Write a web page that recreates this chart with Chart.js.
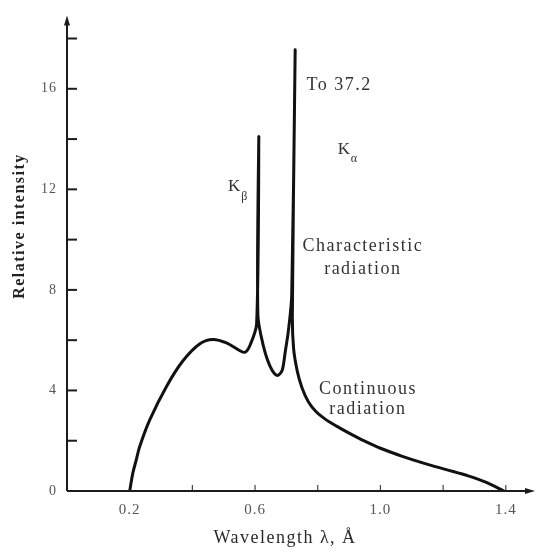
<!DOCTYPE html>
<html>
<head>
<meta charset="utf-8">
<title>Continuous and characteristic radiation</title>
<script src="https://cdn.jsdelivr.net/npm/chart.js@4.4.1/dist/chart.umd.min.js"></script>
<style>
  html, body { margin: 0; padding: 0; background: #fff; }
  canvas { display: block; }
</style>
</head>
<body>
<canvas id="spectrum" width="536" height="555"></canvas>
<script>
// wavelength (A) and relative intensity
const wavelength = [0.200, 0.210, 0.221, 0.232, 0.264, 0.318, 0.370, 0.424, 0.466, 0.509,
                    0.552, 0.568, 0.584, 0.605, 0.612, 0.609, 0.627, 0.648, 0.670, 0.686,
                    0.696, 0.707, 0.717, 0.728, 0.719, 0.723, 0.735, 0.750, 0.770, 0.795,
                    0.825, 0.860, 0.900, 0.950, 1.000, 1.070, 1.140, 1.210, 1.280, 1.340,
                    1.394];
const intensity  = [0.00, 0.71, 1.24, 1.77, 2.83, 4.17, 5.18, 5.86, 6.03, 5.89,
                    5.58, 5.52, 5.80, 6.65, 14.1, 7.00, 5.75, 4.96, 4.60, 4.78,
                    5.51, 6.44, 7.80, 17.55, 6.98, 5.66, 4.75, 4.10, 3.55, 3.15,
                    2.85, 2.58, 2.30, 1.98, 1.70, 1.38, 1.10, 0.85, 0.60, 0.33,
                    0.00];

const xTickLabels = ['0.2', '0.6', '1.0', '1.4'];
const yTickLabels = ['0', '4', '8', '12', '16'];

// labels written on the plot (data units)
const notes = [
  { text: 'To 37.2', x: 0.868, y: 16.13 },
  { text: 'Characteristic', x: 0.944, y: 9.72 },
  { text: 'radiation', x: 0.944, y: 8.81 },
  { text: 'Continuous', x: 0.960, y: 4.03 },
  { text: 'radiation', x: 0.960, y: 3.24 }
];
const lines = [
  { main: 'K', sub: '\u03b1', x: 0.886, y: 13.6 },
  { main: 'K', sub: '\u03b2', x: 0.536, y: 12.1 }
];

const points = wavelength.map((w, i) => ({ x: w, y: intensity[i] }));

const serif = '"Liberation Serif", "DejaVu Serif", serif';

const drawAxes = {
  id: 'drawAxes',
  beforeDraw(chart) {
    chart.ctx.letterSpacing = '1px';
  },
  afterDraw(chart) {
    const { ctx, chartArea: a, scales } = chart;
    const x = scales.x, y = scales.y;
    ctx.save();
    ctx.strokeStyle = '#1c1c1c';
    ctx.fillStyle = '#1c1c1c';
    ctx.lineWidth = 2;

    // y axis + arrow
    ctx.beginPath();
    ctx.moveTo(a.left, a.bottom);
    ctx.lineTo(a.left, a.top + 3);
    ctx.stroke();
    ctx.beginPath();
    ctx.moveTo(a.left, a.top - 3);
    ctx.lineTo(a.left - 3, a.top + 7);
    ctx.lineTo(a.left + 3, a.top + 7);
    ctx.closePath();
    ctx.fill();

    // y ticks, pointing inwards
    y.ticks.forEach(t => {
      if (t.value <= 0) return;
      if (Math.abs(t.value / 2 - Math.round(t.value / 2)) > 1e-6) return;
      const py = y.getPixelForValue(t.value);
      ctx.beginPath();
      ctx.moveTo(a.left, py);
      ctx.lineTo(a.left + 10, py);
      ctx.stroke();
    });

    // x axis + arrow
    ctx.beginPath();
    ctx.moveTo(a.left, a.bottom);
    ctx.lineTo(a.right - 6, a.bottom);
    ctx.stroke();
    ctx.beginPath();
    ctx.moveTo(a.right + 1, a.bottom);
    ctx.lineTo(a.right - 9, a.bottom - 3);
    ctx.lineTo(a.right - 9, a.bottom + 3);
    ctx.closePath();
    ctx.fill();

    // small x ticks
    ctx.lineWidth = 1.2;
    ctx.strokeStyle = '#444';
    x.ticks.forEach(t => {
      if (t.value <= 0.25) return;
      const px = x.getPixelForValue(t.value);
      ctx.beginPath();
      ctx.moveTo(px, a.bottom - 1);
      ctx.lineTo(px, a.bottom - 6);
      ctx.stroke();
    });

    // notes on the plot
    ctx.fillStyle = '#333';
    ctx.textAlign = 'center';
    ctx.textBaseline = 'middle';
    ctx.letterSpacing = '1.5px';
    ctx.font = '18px ' + serif;
    notes.forEach(n => {
      ctx.fillText(n.text, x.getPixelForValue(n.x), y.getPixelForValue(n.y));
    });
    lines.forEach(l => {
      const px = x.getPixelForValue(l.x), py = y.getPixelForValue(l.y);
      ctx.font = '17px ' + serif;
      ctx.fillText(l.main, px, py);
      ctx.font = '12px ' + serif;
      ctx.fillText(l.sub, px + 10, py + 10);
    });

    // axis titles
    ctx.fillStyle = '#2a2a2a';
    ctx.font = '18px ' + serif;
    ctx.fillText('Wavelength \u03bb, \u00c5', 285, 538);

    ctx.translate(20, 226);
    ctx.rotate(-Math.PI / 2);
    ctx.font = 'bold 16px ' + serif;
    ctx.fillStyle = '#222';
    ctx.fillText('Relative intensity', 0, 0);
    ctx.restore();
  }
};

new Chart(document.getElementById('spectrum'), {
  type: 'line',
  data: {
    datasets: [{
      data: points,
      borderColor: '#111',
      borderWidth: 3,
      pointRadius: 0,
      tension: 0.3,
      fill: false,
      borderJoinStyle: 'round',
      borderCapStyle: 'round'
    }]
  },
  options: {
    responsive: false,
    animation: false,
    devicePixelRatio: 1,
    layout: { padding: { top: 15, right: 2, left: 0, bottom: 0 } },
    plugins: { legend: { display: false }, tooltip: { enabled: false } },
    scales: {
      x: {
        type: 'linear',
        min: 0,
        max: 1.49,
        afterFit(s) { s.height = 64; },
        grid: { display: false, drawTicks: false },
        border: { display: false },
        ticks: {
          stepSize: 0.2,
          autoSkip: false,
          maxRotation: 0,
          includeBounds: false,
          padding: 10,
          color: '#555',
          font: { family: serif, size: 15 },
          callback(v) {
            const s = (Math.round(v * 10) / 10).toFixed(1);
            return xTickLabels.includes(s) ? s : '';
          }
        }
      },
      y: {
        min: 0,
        max: 18.8,
        afterFit(s) { s.width = 67; },
        grid: { display: false, drawTicks: false },
        border: { display: false },
        ticks: {
          stepSize: 2,
          autoSkip: false,
          includeBounds: false,
          padding: 10,
          color: '#555',
          font: { family: serif, size: 14 },
          callback(v) {
            const s = String(Math.round(v));
            return (Math.abs(v - Math.round(v)) < 1e-6 && yTickLabels.includes(s)) ? s : '';
          }
        }
      }
    }
  },
  plugins: [drawAxes]
});
</script>
</body>
</html>
